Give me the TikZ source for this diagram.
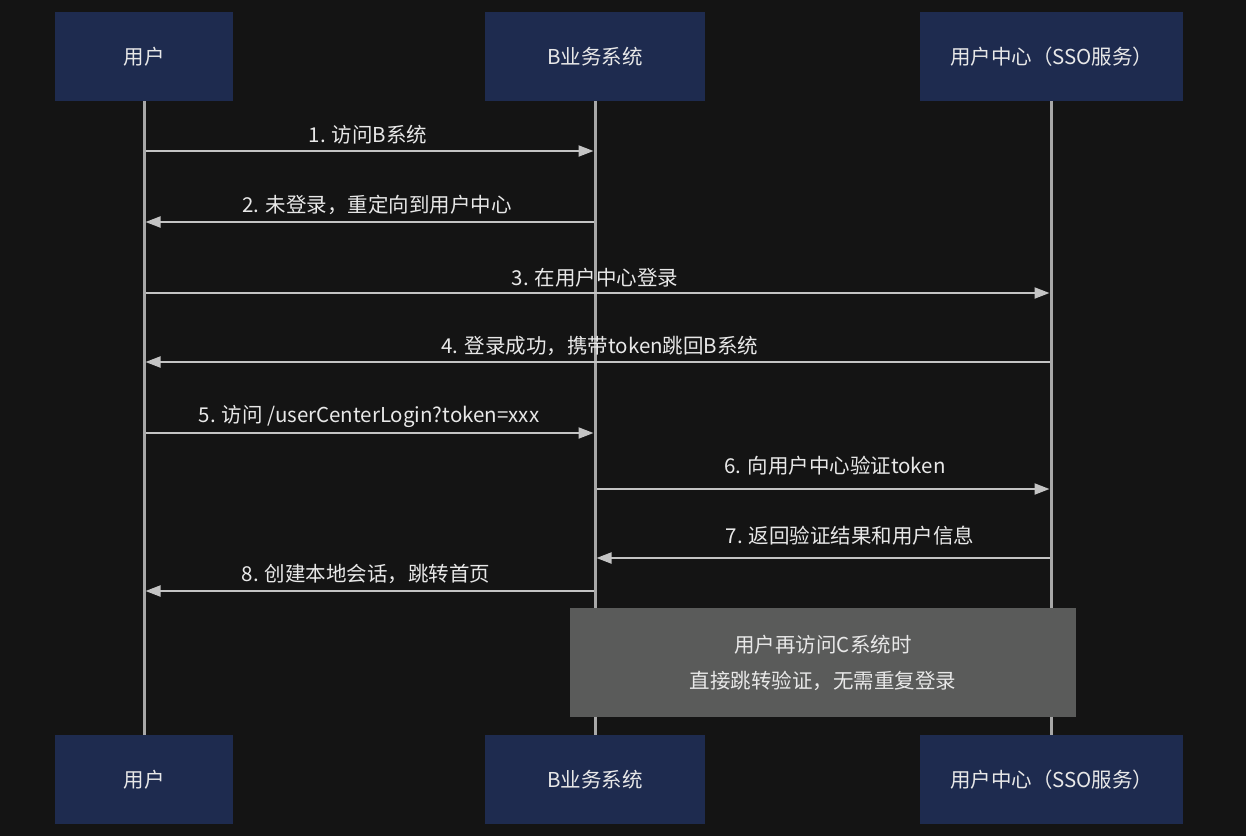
\documentclass[tikz,border=0pt]{standalone}
\usepackage{fontspec}
\setmainfont{Noto Sans CJK SC}
\usetikzlibrary{arrows.meta}
\definecolor{bg}{HTML}{141414}
\definecolor{boxc}{HTML}{1E2B4F}
\definecolor{notec}{HTML}{5A5B5A}
\definecolor{lifec}{HTML}{A8A8A8}
\definecolor{arrc}{HTML}{C4C4C4}
\definecolor{txtc}{HTML}{E8E8E8}
\tikzset{
  actor/.style={fill=boxc, text=txtc, inner sep=0pt, anchor=north west, font=\fontsize{20.5pt}{24pt}\selectfont},
  lifeline/.style={draw=lifec, line width=3pt},
  msg/.style={draw=arrc, line width=2pt, -{Triangle[length=15pt,width=11pt]}},
  lbl/.style={text=txtc, font=\fontsize{20.5pt}{24pt}\selectfont, inner sep=0pt}
}
\begin{document}
\begin{tikzpicture}[x=1pt,y=-1pt]
\useasboundingbox[fill=bg] (0,0) rectangle (1246,836);
% lifelines
\coordinate (ua) at (144,101); \coordinate (ub) at (144,735);
\coordinate (ba) at (595,101); \coordinate (bb) at (595,735);
\coordinate (sa) at (1051,101); \coordinate (sb) at (1051,735);
\draw[lifeline] (ua) -- (ub);
\draw[lifeline] (ba) -- (bb);
\draw[lifeline] (sa) -- (sb);
% actors
\node[actor, minimum width=178pt, minimum height=89pt] (u1) at (55,12) {用户};
\node[actor, minimum width=220pt, minimum height=89pt] (b1) at (485,12) {B业务系统};
\node[actor, minimum width=263pt, minimum height=89pt] (s1) at (920,12) {用户中心（SSO服务）};
\node[actor, minimum width=178pt, minimum height=89pt] (u2) at (55,735) {用户};
\node[actor, minimum width=220pt, minimum height=89pt] (b2) at (485,735) {B业务系统};
\node[actor, minimum width=263pt, minimum height=89pt] (s2) at (920,735) {用户中心（SSO服务）};
% message endpoints
\coordinate (m1a) at (145.5,151); \coordinate (m1b) at (593.5,151);
\coordinate (m2a) at (593.5,222); \coordinate (m2b) at (145.5,222);
\coordinate (m3a) at (145.5,293); \coordinate (m3b) at (1049.5,293);
\coordinate (m4a) at (1049.5,362); \coordinate (m4b) at (145.5,362);
\coordinate (m5a) at (145.5,433); \coordinate (m5b) at (593.5,433);
\coordinate (m6a) at (596.5,489); \coordinate (m6b) at (1049.5,489);
\coordinate (m7a) at (1049.5,558); \coordinate (m7b) at (596.5,558);
\coordinate (m8a) at (593.5,591); \coordinate (m8b) at (145.5,591);
\draw[msg] (m1a) -- (m1b);
\draw[msg] (m2a) -- (m2b);
\draw[msg] (m3a) -- (m3b);
\draw[msg] (m4a) -- (m4b);
\draw[msg] (m5a) -- (m5b);
\draw[msg] (m6a) -- (m6b);
\draw[msg] (m7a) -- (m7b);
\draw[msg] (m8a) -- (m8b);
% labels
\node[lbl] (l1) at (368,135) {1. 访问B系统};
\node[lbl] (l2) at (377,205) {2. 未登录，重定向到用户中心};
\node[lbl] (l3) at (595,278) {3. 在用户中心登录};
\node[lbl] (l4) at (600,346) {4. 登录成功，携带token跳回B系统};
\node[lbl] (l5) at (369,416) {5. 访问 /userCenterLogin?token=xxx};
\node[lbl] (l6) at (835,466) {6. 向用户中心验证token};
\node[lbl] (l7) at (850,536) {7. 返回验证结果和用户信息};
\node[lbl] (l8) at (366,574) {8. 创建本地会话，跳转首页};
% note
\node[fill=notec, inner sep=0pt, minimum width=506pt, minimum height=109pt, anchor=north west] (note) at (570,608) {};
\node[lbl] (n1) at (823,645) {用户再访问C系统时};
\node[lbl] (n2) at (823,681) {直接跳转验证，无需重复登录};
\end{tikzpicture}
\end{document}
